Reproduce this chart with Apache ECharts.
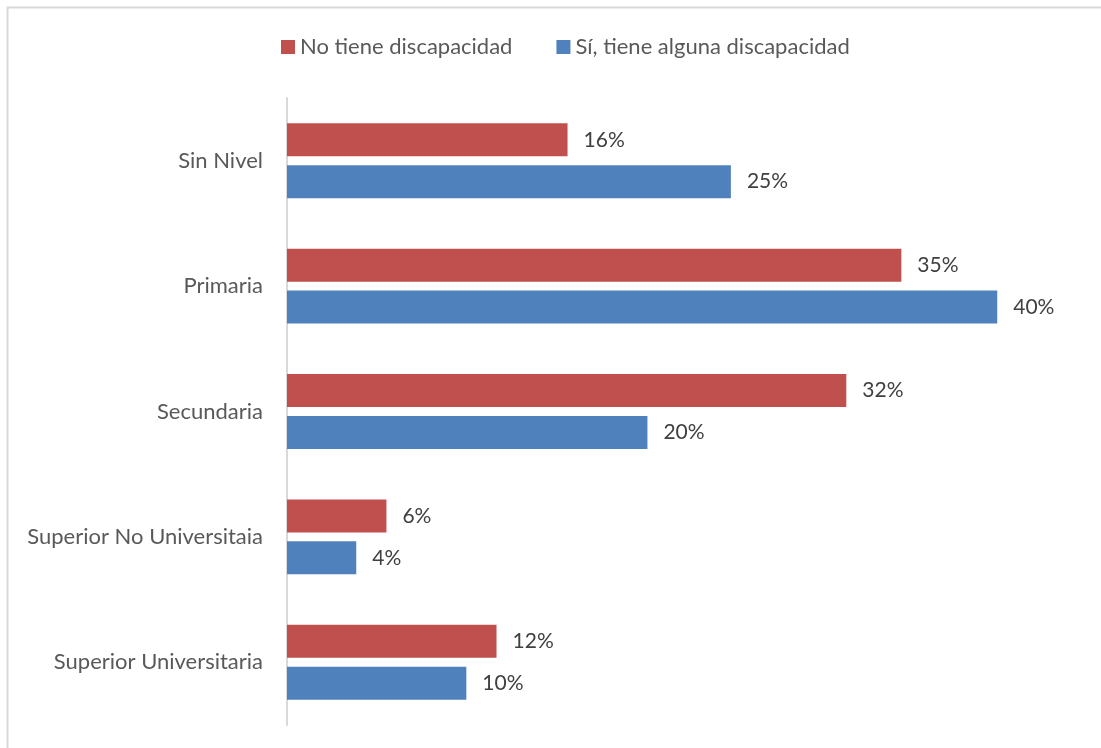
<!DOCTYPE html>
<html>
<head>
<meta charset="utf-8">
<script src="https://cdn.jsdelivr.net/npm/echarts@6/dist/echarts.min.js"></script>
<style>
  html, body { margin: 0; padding: 0; background: #fff; }
  #chart_1 { width: 1101px; height: 748px; }
</style>
</head>
<body>
<div id="chart_1"></div>
<script>
// datos (porcentajes)
var categories = ["Sin Nivel", "Primaria", "Secundaria", "Superior No Universitaia", "Superior Universitaria"];
var noTiene = [15.8, 34.6, 31.5, 5.6, 11.8];
var siTiene = [25.0, 40.0, 20.3, 3.9, 10.1];
var seriesNames = ["No tiene discapacidad", "Sí, tiene alguna discapacidad"];

var fontName = "Lato, 'Open Sans', sans-serif";

function load_chart() {
  const chartDom = document.getElementById("chart_1");
  const myChart = echarts.init(chartDom);

  const labelStyle = {
    show: true,
    position: "right",
    distance: 16,
    color: "#404040",
    fontSize: 21,
    fontFamily: fontName,
    formatter: function (p) {
      return Math.round(p.value) + "%";
    },
  };

  const option = {
    animation: false,
    graphic: [
      {
        type: "rect",
        shape: { x: 7.5, y: 7.5, width: 1200, height: 1000 },
        style: { fill: "none", stroke: "#d9d9d9", lineWidth: 2 },
        silent: true,
      },
    ],
    legend: {
      top: 31,
      left: 276,
      itemWidth: 14,
      itemHeight: 14,
      itemGap: 44,
      icon: "rect",
      textStyle: { color: "#595959", fontSize: 22, fontFamily: fontName },
      data: seriesNames,
    },
    grid: { left: 287, right: 15, top: 98, bottom: 23, containLabel: false },
    xAxis: {
      type: "value",
      min: 0,
      max: 45,
      show: false,
    },
    yAxis: {
      type: "category",
      data: categories,
      inverse: true,
      axisLine: { show: true, lineStyle: { color: "#d9d9d9", width: 2 } },
      axisTick: { show: false },
      axisLabel: {
        margin: 24,
        color: "#595959",
        fontSize: 22,
        fontFamily: fontName,
      },
    },
    series: [
      {
        name: seriesNames[0],
        type: "bar",
        data: noTiene,
        barWidth: 33,
        barGap: "27%",
        itemStyle: { color: "#C0504D" },
        label: labelStyle,
      },
      {
        name: seriesNames[1],
        type: "bar",
        data: siTiene,
        barWidth: 33,
        barGap: "27%",
        itemStyle: { color: "#4F81BD" },
        label: labelStyle,
      },
    ],
  };

  myChart.setOption(option);
}

load_chart();
</script>
</body>
</html>
